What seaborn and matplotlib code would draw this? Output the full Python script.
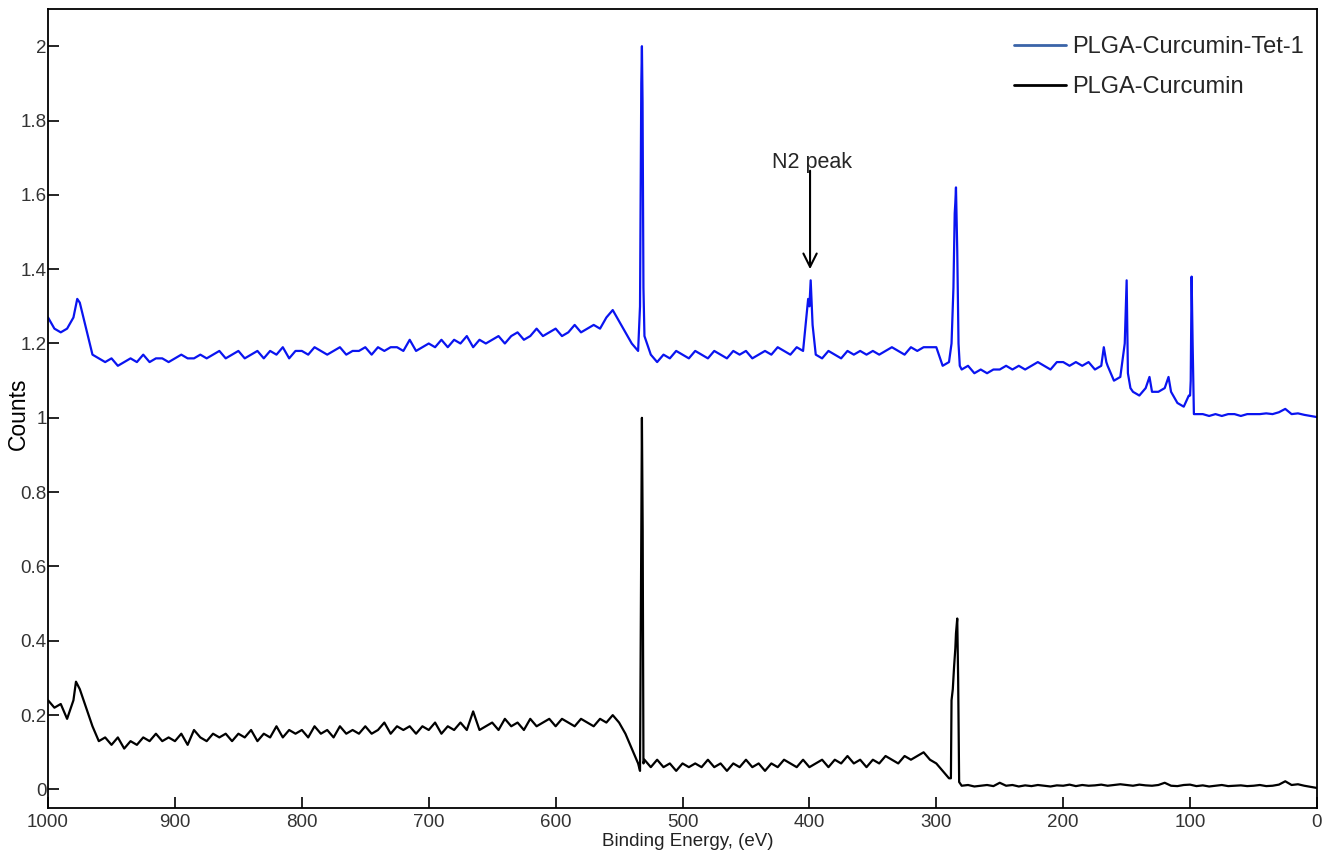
import numpy as np
import pandas as pd
import matplotlib
matplotlib.use('Agg')
import matplotlib.pyplot as plt
from matplotlib.lines import Line2D
import seaborn as sns

# survey spectra, 5 eV grid from 1000 down to 0 eV
grid_ev = list(range(1000, -1, -5))

tet_base = [
    1.27, 1.24, 1.23, 1.24, 1.27, 1.31, 1.24, 1.17, 1.16, 1.15,
    1.16, 1.14, 1.15, 1.16, 1.15, 1.17, 1.15, 1.16, 1.16, 1.15,
    1.16, 1.17, 1.16, 1.16, 1.17, 1.16, 1.17, 1.18, 1.16, 1.17,
    1.18, 1.16, 1.17, 1.18, 1.16, 1.18, 1.17, 1.19, 1.16, 1.18,
    1.18, 1.17, 1.19, 1.18, 1.17, 1.18, 1.19, 1.17, 1.18, 1.18,
    1.19, 1.17, 1.19, 1.18, 1.19, 1.19, 1.18, 1.21, 1.18, 1.19,
    1.20, 1.19, 1.21, 1.19, 1.21, 1.20, 1.22, 1.19, 1.21, 1.20,
    1.21, 1.22, 1.20, 1.22, 1.23, 1.21, 1.22, 1.24, 1.22, 1.23,
    1.24, 1.22, 1.23, 1.25, 1.23, 1.24, 1.25, 1.24, 1.27, 1.29,
    1.26, 1.23, 1.20, 1.18, 1.22, 1.17, 1.15, 1.17, 1.16, 1.18,
    1.17, 1.16, 1.18, 1.17, 1.16, 1.18, 1.17, 1.16, 1.18, 1.17,
    1.18, 1.16, 1.17, 1.18, 1.17, 1.19, 1.18, 1.17, 1.19, 1.18,
    1.30, 1.17, 1.16, 1.18, 1.17, 1.16, 1.18, 1.17, 1.18, 1.17,
    1.18, 1.17, 1.18, 1.19, 1.18, 1.17, 1.19, 1.18, 1.19, 1.19,
    1.19, 1.14, 1.15, 1.58, 1.13, 1.14, 1.12, 1.13, 1.12, 1.13,
    1.13, 1.14, 1.13, 1.14, 1.13, 1.14, 1.15, 1.14, 1.13, 1.15,
    1.15, 1.14, 1.15, 1.14, 1.15, 1.13, 1.14, 1.14, 1.10, 1.11,
    1.37, 1.07, 1.06, 1.08, 1.07, 1.07, 1.08, 1.07, 1.04, 1.03,
    1.06, 1.01, 1.01, 1.005, 1.01, 1.005, 1.01, 1.01, 1.005, 1.01,
    1.01, 1.01, 1.012, 1.01, 1.015, 1.024, 1.01, 1.012, 1.008, 1.005,
    1.002,
]
# extra samples around the narrow peaks
tet_peak_ev = [977, 533.5, 532.5, 532, 531.5, 530.8, 401, 399, 397.5,
               288, 286.5, 285.5, 284.5, 283.5, 282.5, 281.5,
               168, 166, 151.5, 149, 147, 132, 117, 101, 99.5, 98.8, 98, 97]
tet_peak_val = [1.32, 1.30, 1.90, 2.00, 1.85, 1.35, 1.32, 1.37, 1.25,
                1.20, 1.35, 1.55, 1.62, 1.45, 1.20, 1.14,
                1.19, 1.15, 1.20, 1.12, 1.08, 1.11, 1.11, 1.06, 1.10, 1.38, 1.20, 1.01]

cur_base = [
    0.24, 0.22, 0.23, 0.19, 0.24, 0.27, 0.22, 0.17, 0.13, 0.14,
    0.12, 0.14, 0.11, 0.13, 0.12, 0.14, 0.13, 0.15, 0.13, 0.14,
    0.13, 0.15, 0.12, 0.16, 0.14, 0.13, 0.15, 0.14, 0.15, 0.13,
    0.15, 0.14, 0.16, 0.13, 0.15, 0.14, 0.17, 0.14, 0.16, 0.15,
    0.16, 0.14, 0.17, 0.15, 0.16, 0.14, 0.17, 0.15, 0.16, 0.15,
    0.17, 0.15, 0.16, 0.18, 0.15, 0.17, 0.16, 0.17, 0.15, 0.17,
    0.16, 0.18, 0.15, 0.17, 0.16, 0.18, 0.16, 0.21, 0.16, 0.17,
    0.18, 0.16, 0.19, 0.17, 0.18, 0.16, 0.19, 0.17, 0.18, 0.19,
    0.17, 0.19, 0.18, 0.17, 0.19, 0.18, 0.17, 0.19, 0.18, 0.20,
    0.18, 0.15, 0.11, 0.07, 0.08, 0.06, 0.08, 0.06, 0.07, 0.05,
    0.07, 0.06, 0.07, 0.06, 0.08, 0.06, 0.07, 0.05, 0.07, 0.06,
    0.08, 0.06, 0.07, 0.05, 0.07, 0.06, 0.08, 0.07, 0.06, 0.08,
    0.06, 0.07, 0.08, 0.06, 0.08, 0.07, 0.09, 0.07, 0.08, 0.06,
    0.08, 0.07, 0.09, 0.08, 0.07, 0.09, 0.08, 0.09, 0.10, 0.08,
    0.07, 0.05, 0.03, 0.38, 0.01, 0.012, 0.008, 0.01, 0.012, 0.009,
    0.018, 0.01, 0.012, 0.008, 0.011, 0.009, 0.012, 0.01, 0.008, 0.011,
    0.01, 0.013, 0.009, 0.012, 0.01, 0.011, 0.013, 0.01, 0.012, 0.014,
    0.012, 0.01, 0.013, 0.011, 0.01, 0.012, 0.018, 0.01, 0.009, 0.012,
    0.013, 0.009, 0.011, 0.008, 0.01, 0.012, 0.009, 0.01, 0.011, 0.009,
    0.01, 0.012, 0.009, 0.01, 0.013, 0.022, 0.012, 0.014, 0.01, 0.007,
    0.004,
]
cur_peak_ev = [978, 533.5, 532.8, 532, 531.4, 530.8,
               288.5, 288, 287, 286, 284.5, 283.5, 282.8, 282]
cur_peak_val = [0.29, 0.05, 0.50, 1.00, 0.70, 0.07,
                0.03, 0.24, 0.27, 0.33, 0.42, 0.46, 0.30, 0.02]

series_names = ["PLGA-Curcumin-Tet-1", "PLGA-Curcumin"]
series_colors = ["#0a14f0", "black"]
legend_colors = ["#3a64a8", "black"]


def build_frame(base, peak_ev, peak_val, name):
    df = pd.DataFrame({"energy": grid_ev + peak_ev, "counts": base + peak_val})
    df = df.sort_values("energy", ascending=False).reset_index(drop=True)
    df["sample"] = name
    return df


tet = build_frame(tet_base, tet_peak_ev, tet_peak_val, series_names[0])
cur = build_frame(cur_base, cur_peak_ev, cur_peak_val, series_names[1])

sns.set_style("white")
plt.rcParams['font.family'] = ['Liberation Sans', 'DejaVu Sans']

fig = plt.figure(figsize=(13.24, 8.52), dpi=100)
ax = fig.add_axes([0.0363, 0.0516, 0.9584, 0.9378])

sns.lineplot(data=tet, x="energy", y="counts", color=series_colors[0],
             lw=1.6, sort=False, estimator=None, ax=ax)
sns.lineplot(data=cur, x="energy", y="counts", color=series_colors[1],
             lw=1.6, sort=False, estimator=None, ax=ax)

ax.set_xlim(1000, 0)
ax.set_ylim(-0.05, 2.1)
ax.set_xticks(np.arange(1000, -1, -100))
ax.set_yticks(np.arange(0, 2.01, 0.2))
ax.set_yticklabels(["0", "0.2", "0.4", "0.6", "0.8", "1", "1.2", "1.4", "1.6", "1.8", "2"])
ax.tick_params(axis='both', direction='in', length=8, width=1.2, colors='black',
               labelcolor='#333333', labelsize=13.5, pad=2,
               bottom=True, left=True, top=False, right=False)
ax.tick_params(axis='x', pad=4)
ax.tick_params(axis='y', pad=1)
for s in ax.spines.values():
    s.set_color('black')
    s.set_linewidth(1.3)

ax.set_xlabel("Binding Energy, (eV)", fontsize=13.5, color='#222222')
ax.xaxis.set_label_coords(0.504, -0.031)
ax.set_ylabel("Counts", fontsize=16.5, color='black')
ax.yaxis.set_label_coords(-0.0142, 0.493)

# N2 annotation: vertical arrow plus label above it
ax.annotate("", xy=(399.5, 1.40), xytext=(399.5, 1.665),
            arrowprops=dict(arrowstyle='->', color='black', lw=1.5,
                            mutation_scale=24, shrinkA=0, shrinkB=0))
ax.text(398.3, 1.672, "N2 peak", ha='center', va='baseline', fontsize=15.5)

handles = [Line2D([], [], color=c, lw=2) for c in legend_colors]
ax.legend(handles, series_names, loc='upper right', frameon=False, fontsize=17,
          handlelength=2.2, handletextpad=0.25, labelspacing=0.75,
          bbox_to_anchor=(0.997, 0.9775), borderaxespad=0)

fig.savefig("out.png", dpi=100)
